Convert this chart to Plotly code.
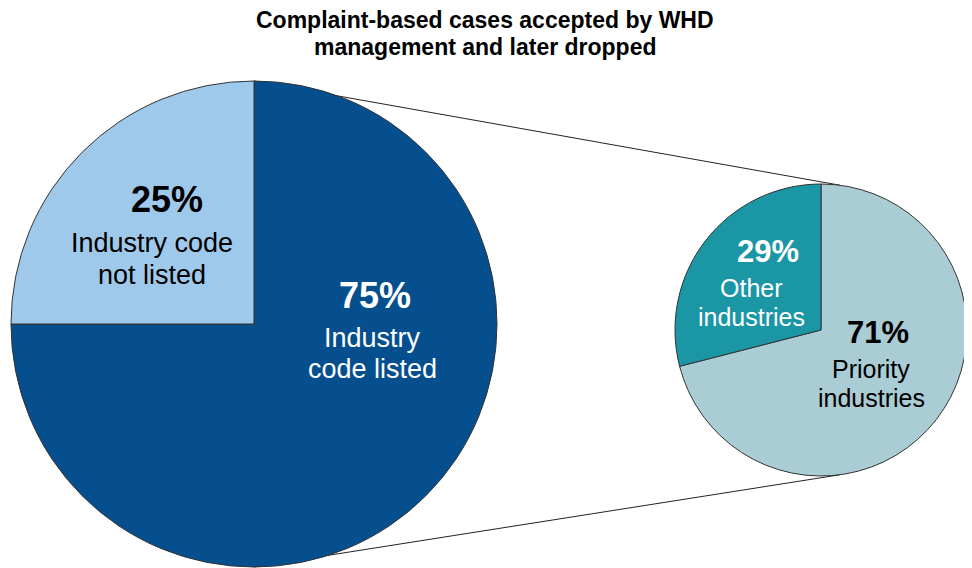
import math
import plotly.graph_objects as go

# the page adds an 8px body margin, so the figure is a little smaller
# than the window and all pixel positions below are window pixels
OFF = 8
W, H = 972 - OFF, 568 - OFF

# ---- data ----
main_labels = ["Industry code listed", "Industry code not listed"]
main_values = [75, 25]
main_desc = ["Industry<br>code listed", "Industry code<br>not listed"]
main_colors = ["#064F8E", "#9FC9EA"]
main_textcol = ["white", "black"]

sub_labels = ["Priority industries", "Other industries"]
sub_values = [71, 29]
sub_desc = ["Priority<br>industries", "Other<br>industries"]
sub_colors = ["#A9CCD5", "#1A96A5"]
sub_textcol = ["black", "white"]

title_lines = ["Complaint-based cases accepted by WHD",
               "management and later dropped"]

FONT = "Arial, Liberation Sans, sans-serif"


def px(x):
    return (x - OFF) / W


def py(y):
    return 1 - (y - OFF) / H


# pie geometry in window pixels (centre x, centre y, radius)
big = (254, 324, 243)
small = (821, 330, 146)


def domain(c):
    cx, cy, r = c
    return dict(x=[px(cx - r), px(cx + r)], y=[py(cy + r), py(cy - r)])


fig = go.Figure()

fig.add_trace(go.Pie(
    labels=main_labels, values=main_values, sort=False,
    direction="clockwise", rotation=0, domain=domain(big),
    marker=dict(colors=main_colors, line=dict(color="#333333", width=1)),
    textinfo="none", hoverinfo="label+percent", showlegend=False,
))

fig.add_trace(go.Pie(
    labels=sub_labels, values=sub_values, sort=False,
    direction="clockwise", rotation=0, domain=domain(small),
    marker=dict(colors=sub_colors, line=dict(color="#333333", width=1)),
    textinfo="none", hoverinfo="label+percent", showlegend=False,
))

# connector lines between the two pies
ang = math.radians(7.5)
sx = small[0] + small[2] * math.sin(ang)
sy_top = small[1] - small[2] * math.cos(ang)
sy_bot = small[1] + small[2] * math.cos(ang)
for y0, y1 in [(big[1] - big[2], sy_top), (big[1] + big[2], sy_bot)]:
    fig.add_shape(type="line", xref="paper", yref="paper",
                  x0=px(big[0]), y0=py(y0), x1=px(sx), y1=py(y1),
                  line=dict(color="#222222", width=1), layer="below")


def text(x, y, s, size, col, bold=False):
    fig.add_annotation(x=px(x), y=py(y), xref="paper", yref="paper",
                       text=f"<b>{s}</b>" if bold else s, showarrow=False,
                       font=dict(family=FONT, size=size, color=col),
                       xanchor="center", yanchor="middle")


# slice labels: value, desc, colour, percent centre, first desc line centre,
# line gap, percent size, desc size
label_pos = [
    (main_values[0], main_desc[0], main_textcol[0], (375, 295), (372, 337.5), 31.5, 36, 27),
    (main_values[1], main_desc[1], main_textcol[1], (167, 199), (152, 243.5), 31.5, 36, 27),
    (sub_values[0], sub_desc[0], sub_textcol[0], (878, 332), (871, 368.5), 29, 31, 25),
    (sub_values[1], sub_desc[1], sub_textcol[1], (768, 251), (751, 287.5), 29, 31, 25),
]
for val, desc, col, (x1, y1), (x2, y2), gap, psize, dsize in label_pos:
    text(x1, y1, f"{val}%", psize, col, bold=True)
    for i, line in enumerate(desc.split("<br>")):
        text(x2, y2 + i * gap, line, dsize, col)

# title, one annotation per line
for i, line in enumerate(title_lines):
    text(485, 20 + i * 27, line, 23, "black", bold=True)

fig.update_layout(
    width=W, height=H,
    margin=dict(l=0, r=0, t=0, b=0),
    paper_bgcolor="white",
    plot_bgcolor="white",
)

fig.write_html("out.html")
